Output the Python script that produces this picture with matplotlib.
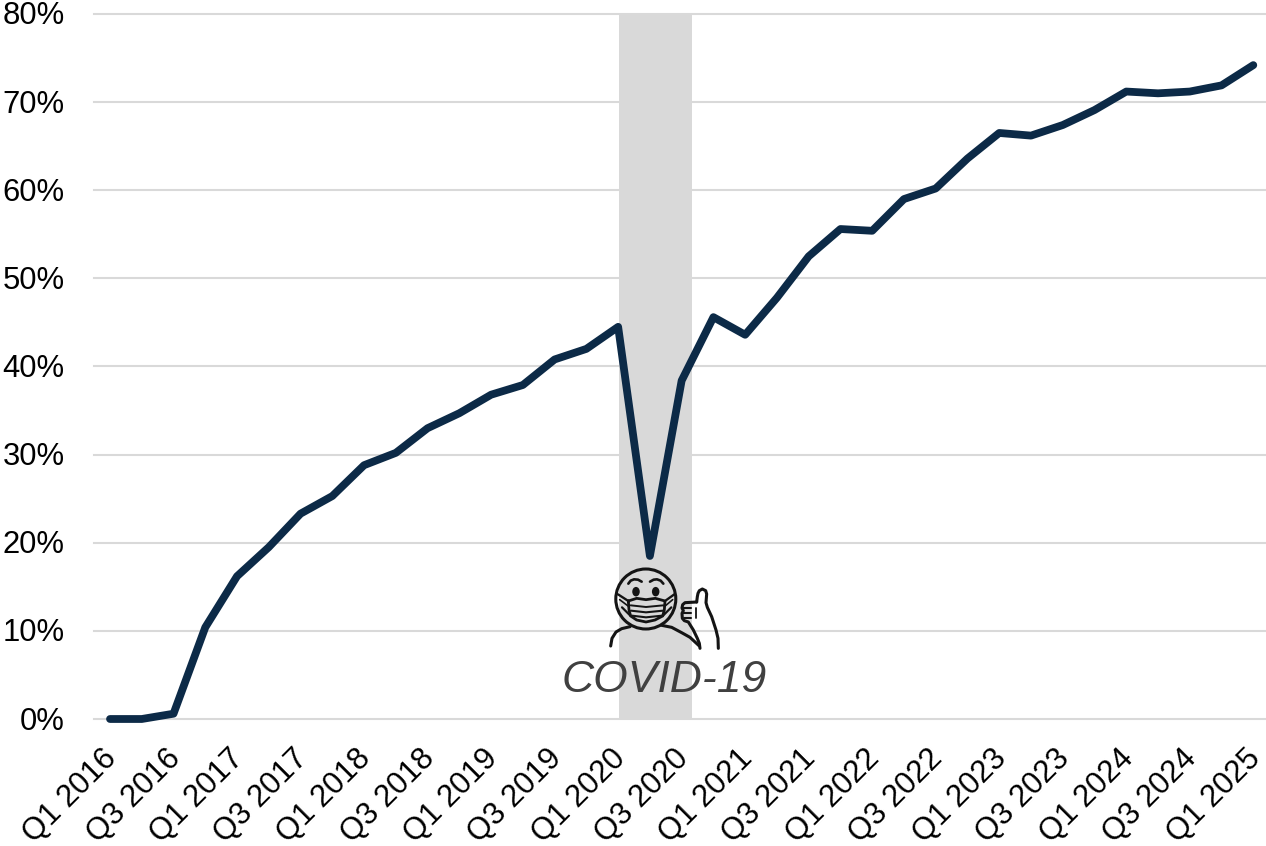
import numpy as np
import matplotlib
matplotlib.use("Agg")
import matplotlib.pyplot as plt
from matplotlib.patches import Circle, Ellipse
from matplotlib.transforms import ScaledTranslation

plt.rcParams['font.family'] = ['Liberation Sans', 'DejaVu Sans']

quarters = [f"Q{q} {y}" for y in range(2016, 2025) for q in (1, 2, 3, 4)] + ["Q1 2025"]
share = [0, 0, 0.6, 10.4, 16.2, 19.5, 23.3, 25.3, 28.8, 30.2, 33.0, 34.7, 36.8, 37.9,
         40.8, 42.0, 44.5, 18.5, 38.4, 45.6, 43.6, 47.8, 52.5, 55.6, 55.4, 59.0, 60.2,
         63.6, 66.5, 66.2, 67.4, 69.1, 71.2, 71.0, 71.2, 71.9, 74.2]
yticks = [0, 10, 20, 30, 40, 50, 60, 70, 80]
covid_span = (16.03, 18.33)

W, H = 1266, 846
fig = plt.figure(figsize=(W / 100, H / 100), dpi=100)
ax = fig.add_axes([94 / W, 1 - 719 / H, (1266 - 94) / W, (719 - 14) / H])
x = np.arange(len(quarters))
ax.axvspan(*covid_span, color="#d9d9d9", lw=0, zorder=1)
ax.plot(x, share, color="#0c2a47", lw=5.6, solid_joinstyle="round", solid_capstyle="round",
        zorder=4, clip_on=False)
ax.set_xlim(-0.504, 36.4)
ax.set_ylim(0, 80)
ax.set_yticks(yticks)
ax.set_yticklabels([f"{v}%" for v in yticks], fontsize=22.3, color="black")
ax.set_xticks(x[::2])
ax.set_xticklabels(quarters[::2], fontsize=22.3, rotation=45, ha="right", va="top",
                   rotation_mode="anchor", color="black")
ax.tick_params(axis="both", length=0)
ax.tick_params(axis="y", pad=21)
ax.tick_params(axis="x", pad=16)
ax.grid(axis="y", color="#d9d9d9", lw=1.5, zorder=0)
ax.set_axisbelow(True)
for g in ax.get_ygridlines():
    g.set_clip_on(False)
for s in ax.spines.values():
    s.set_visible(False)
shift = ScaledTranslation(-8 / 100, -2 / 100, fig.dpi_scale_trans)
for lab in ax.get_xticklabels():
    lab.set_transform(lab.get_transform() + shift)
shift_y = ScaledTranslation(0, 1 / 100, fig.dpi_scale_trans)
for lab in ax.get_yticklabels():
    lab.set_transform(lab.get_transform() + shift_y)

# overlay in pixel space for the mascot and caption
ov = fig.add_axes([0, 0, 1, 1], facecolor="none")
ov.set_xlim(0, W)
ov.set_ylim(H, 0)
ov.axis("off")
ov.text(664.5, 680, "COVID-19", fontsize=32, style="italic", color="#404040",
        ha="center", va="center")

INK = "#141414"

def draw(ox, oy, xs, ys, lw):
    ov.plot(ox + np.array(xs) / 3, oy + np.array(ys) / 3, color=INK, lw=lw,
            solid_capstyle="round", solid_joinstyle="round")

def face(xs, ys, lw=1.9):
    draw(610, 565, xs, ys, lw)

def hand(xs, ys, lw=2.2):
    draw(670, 580, xs, ys, lw)

ov.add_patch(Circle((645.8, 599), 30, fill=False, ec=INK, lw=2.2))
for ex in (78, 137):
    ov.add_patch(Ellipse((610 + ex / 3, 565 + 80 / 3), 7.5, 9.5, color=INK, lw=0))
face([55, 62, 72, 84, 95], [56, 47, 43, 44, 50])
face([120, 131, 141, 152, 160], [50, 44, 43, 47, 56])
# mask
face([55, 80, 108, 136, 165, 163, 158, 135, 108, 80, 62, 57, 55],
     [108, 100, 104, 100, 108, 135, 153, 165, 171, 165, 153, 135, 108], 2.0)
face([62, 108, 160], [121, 126, 121], 1.4)
face([63, 108, 159], [137, 142, 137], 1.5)
face([66, 108, 156], [152, 157, 152], 1.5)
face([55, 24], [108, 88], 1.7)
face([57, 29], [125, 104], 1.2)
face([165, 193], [108, 88], 1.7)
face([163, 188], [125, 104], 1.2)
face([62, 36], [153, 127], 1.6)
face([158, 184], [153, 127], 1.6)
# shoulders
draw(550, 550, [182, 186, 198, 215, 240], [288, 265, 246, 236, 230], 2.2)
draw(550, 550, [335, 365, 395, 420, 448], [226, 232, 248, 262, 288], 2.2)
# thumbs-up
hand([80, 82, 84, 88, 97, 107, 110, 108, 112, 125, 138, 144, 145],
     [66, 50, 40, 32, 27, 32, 42, 68, 82, 110, 150, 175, 205])
hand([80, 45, 38, 36, 40, 36, 37, 43, 55, 70, 82, 88, 90],
     [66, 68, 74, 84, 92, 100, 115, 122, 126, 150, 175, 190, 205])
hand([40, 62], [84, 84], 1.5)
hand([40, 62], [100, 100], 1.5)
hand([42, 62], [115, 115], 1.5)
hand([78, 78], [84, 114], 1.3)

fig.savefig("out.png", dpi=100)
